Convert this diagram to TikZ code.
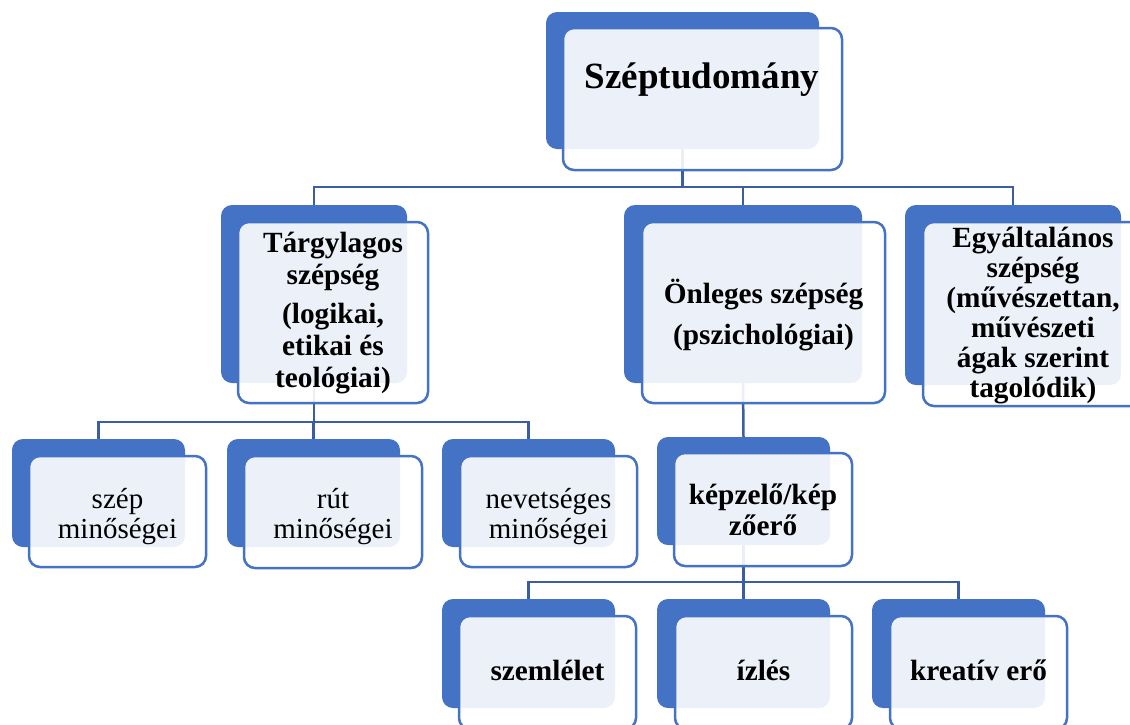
\documentclass[tikz,border=0pt]{standalone}
\usepackage{fontspec}
\setmainfont{Liberation Serif}
\definecolor{accent}{HTML}{4472C4}
\definecolor{conncol}{HTML}{3A5DA3}
\tikzset{
  backbox/.style={rectangle, rounded corners=11pt, fill=accent, draw=none, inner sep=0pt, outer sep=0pt, anchor=north west},
  frontbox/.style={rectangle, rounded corners=11pt, fill=white, fill opacity=0.9, draw=accent, draw opacity=1, line width=2.5pt, inner sep=0pt, outer sep=0pt, anchor=north west},
  conn/.style={draw=conncol, line width=2.5pt},
  tzero/.style={font=\bfseries\fontsize{37}{44}\selectfont, inner sep=0pt, anchor=base},
  tone/.style={font=\bfseries\fontsize{29.3}{31.5}\selectfont, align=center, inner sep=0pt},
  ttwo/.style={font=\fontsize{29}{30}\selectfont, align=center, inner sep=0pt},
}
\newcommand\backelem[5]{\node[backbox, minimum width={#4pt-#2pt}, minimum height={#5pt-#3pt}] (#1) at (#2,#3) {};}
\newcommand\frontelem[5]{\node[frontbox, minimum width={#4pt-#2pt}, minimum height={#5pt-#3pt}] (#1) at (#2,#3) {};}
\begin{document}
\begin{tikzpicture}[x=1pt,y=-1pt]
\clip (0,0) rectangle (1130,724);
\fill[white] (0,0) rectangle (1130,724);
% back boxes
\backelem{rootB}{546}{12}{819}{149}
\backelem{tB}{221}{205}{407}{383}
\backelem{oB}{624}{205}{862}{383}
\backelem{eB}{905}{205}{1121}{385}
\backelem{szB}{12}{439}{185}{547}
\backelem{rB}{227}{439}{400}{547}
\backelem{nB}{442}{439}{615}{547}
\backelem{kB}{657}{437}{830}{545}
\backelem{smB}{442}{599}{615}{708}
\backelem{iB}{657}{599}{830}{708}
\backelem{krB}{872}{599}{1045}{708}
% connectors
\coordinate (bus0) at (0,187);
\coordinate (bus1) at (0,422);
\coordinate (bus2) at (0,582);
\draw[conn] (rootB.south) |- (tB.north |- bus0) -- (tB.north);
\draw[conn] (rootB.south) |- (oB.north |- bus0) -- (oB.north);
\draw[conn] (rootB.south) |- (eB.north |- bus0) -- (eB.north);
\draw[conn] (tB.south) |- (szB.north |- bus1) -- (szB.north);
\draw[conn] (tB.south) |- (rB.north |- bus1) -- (rB.north);
\draw[conn] (tB.south) |- (nB.north |- bus1) -- (nB.north);
\draw[conn] (oB.south) -- (kB.north);
\draw[conn] (kB.south) |- (smB.north |- bus2) -- (smB.north);
\draw[conn] (kB.south) |- (iB.north |- bus2) -- (iB.north);
\draw[conn] (kB.south) |- (krB.north |- bus2) -- (krB.north);
% front boxes
\frontelem{rootF}{563}{28}{842}{170}
\frontelem{tF}{238}{222}{428}{403}
\frontelem{oF}{642}{222}{885}{403}
\frontelem{eF}{923}{222}{1143}{406}
\frontelem{szF}{29}{456}{206}{567}
\frontelem{rF}{244}{456}{422}{568}
\frontelem{nF}{460}{456}{637}{567}
\frontelem{kF}{674}{453}{852}{566}
\frontelem{smF}{459}{616}{636}{729}
\frontelem{iF}{675}{616}{852}{729}
\frontelem{krF}{890}{616}{1067}{729}
% texts
\node[tzero] (rootT) at (702,88) {Széptudomány};
\node[tone, font=\bfseries\fontsize{29.3}{32}\selectfont] (tT) at (333,313) {Tárgylagos\\ szépség\\[7pt] (logikai,\\ etikai és\\ teológiai)};
\node[tone] (oT) at (763.5,315) {Önleges szépség\\[10pt] (pszichológiai)};
\node[tone, font=\bfseries\fontsize{29.3}{30}\selectfont] (eT) at (1033,316) {Egyáltalános\\ szépség\\ (művészettan,\\ művészeti\\ ágak szerint\\ tagolódik)};
\node[ttwo] (szT) at (117.5,517) {szép\\ minőségei};
\node[ttwo] (rT) at (333,517) {rút\\ minőségei};
\node[ttwo] (nT) at (548.5,517) {nevetséges\\ minőségei};
\node[tone] (kT) at (763,510) {képzelő/kép\\ zőerő};
\node[tzero, font=\bfseries\fontsize{29.3}{31.5}\selectfont] (smT) at (547.5,680) {szemlélet};
\node[tzero, font=\bfseries\fontsize{29.3}{31.5}\selectfont] (iT) at (763.5,680) {ízlés};
\node[tzero, font=\bfseries\fontsize{29.3}{31.5}\selectfont] (krT) at (978.5,680) {kreatív erő};
\end{tikzpicture}
\end{document}
